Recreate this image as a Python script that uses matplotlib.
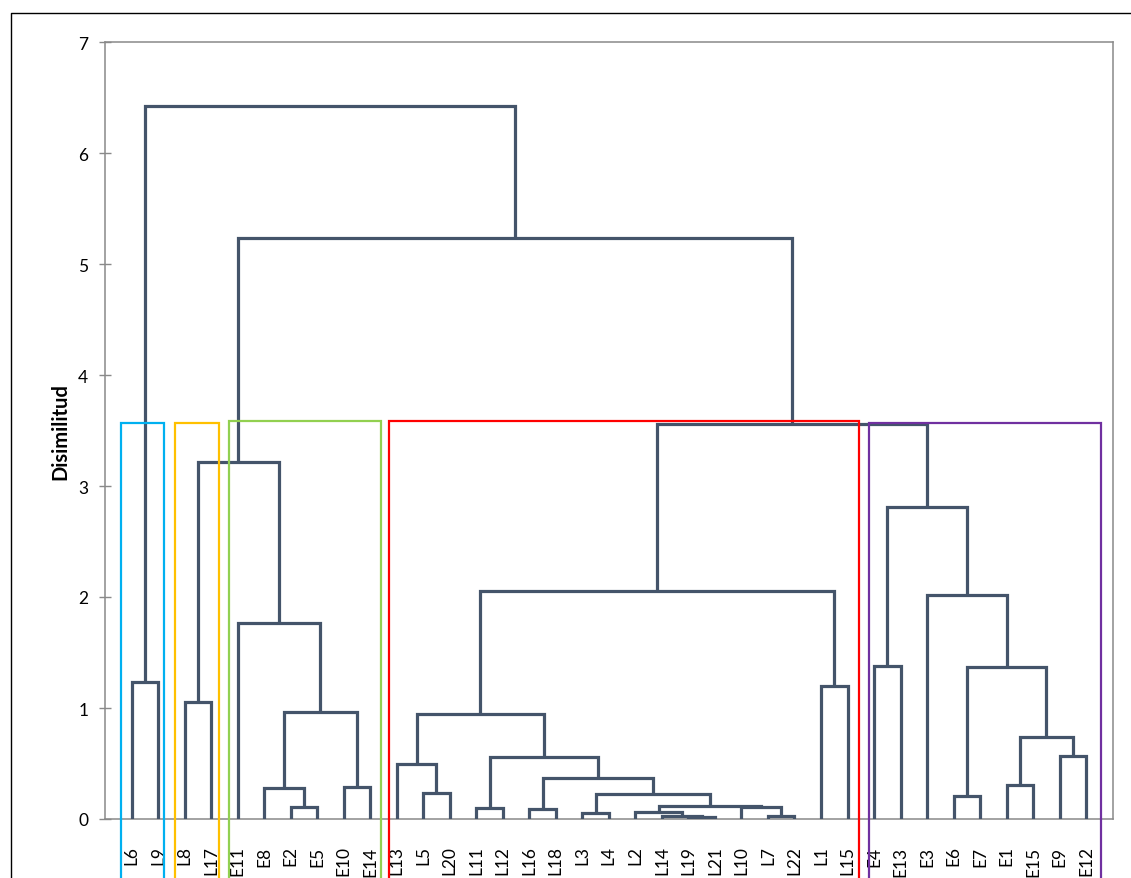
import matplotlib.pyplot as plt
from matplotlib.lines import Line2D

plt.rcParams['font.family'] = ['Lato', 'DejaVu Sans']

# hojas en el orden del dendrograma
hojas = ['L6', 'L9', 'L8', 'L17', 'E11', 'E8', 'E2', 'E5', 'E10', 'E14',
         'L13', 'L5', 'L20', 'L11', 'L12', 'L16', 'L18', 'L3', 'L4', 'L2',
         'L14', 'L19', 'L21', 'L10', 'L7', 'L22', 'L1', 'L15',
         'E4', 'E13', 'E3', 'E6', 'E7', 'E1', 'E15', 'E9', 'E12']

# uniones: (nombre, hijo izquierdo, hijo derecho, disimilitud)
uniones = [
    ('m1', 'L19', 'L21', 0.015),
    ('m2', 'L14', 'm1', 0.025),
    ('m3', 'L2', 'm2', 0.065),
    ('m4', 'L7', 'L22', 0.025),
    ('m5', 'L10', 'm4', 0.105),
    ('m6', 'm3', 'm5', 0.115),
    ('m7', 'L3', 'L4', 0.057),
    ('m8', 'm7', 'm6', 0.225),
    ('m9', 'L16', 'L18', 0.09),
    ('m10', 'm9', 'm8', 0.37),
    ('m11', 'L11', 'L12', 0.10),
    ('m12', 'm11', 'm10', 0.56),
    ('m13', 'L5', 'L20', 0.23),
    ('m14', 'L13', 'm13', 0.50),
    ('m15', 'm14', 'm12', 0.945),
    ('m16', 'L1', 'L15', 1.20),
    ('m17', 'm15', 'm16', 2.05),
    ('m18', 'E2', 'E5', 0.105),
    ('m19', 'E8', 'm18', 0.275),
    ('m20', 'E10', 'E14', 0.29),
    ('m21', 'm19', 'm20', 0.96),
    ('m22', 'E11', 'm21', 1.77),
    ('m23', 'L8', 'L17', 1.05),
    ('m24', 'm23', 'm22', 3.22),
    ('m25', 'L6', 'L9', 1.23),
    ('m26', 'E4', 'E13', 1.38),
    ('m27', 'E6', 'E7', 0.21),
    ('m28', 'E1', 'E15', 0.31),
    ('m29', 'E9', 'E12', 0.565),
    ('m30', 'm28', 'm29', 0.74),
    ('m31', 'm27', 'm30', 1.37),
    ('m32', 'E3', 'm31', 2.02),
    ('m33', 'm26', 'm32', 2.81),
    ('m34', 'm17', 'm33', 3.56),
    ('m35', 'm24', 'm34', 5.23),
    ('m36', 'm25', 'm35', 6.42),
]

# grupos marcados con recuadros: (x izq, x der, altura, color)
grupos = [
    (0.60, 2.24, 3.565, '#00B0F0'),
    (2.64, 4.29, 3.565, '#FFC000'),
    (4.69, 10.42, 3.59, '#92D050'),
    (10.72, 28.43, 3.59, '#FF0000'),
    (28.81, 37.57, 3.565, '#7030A0'),
]

fig = plt.figure(figsize=(11.31, 8.79), dpi=100)
ax = fig.add_axes([105 / 1131, 1 - 820 / 879, (1112.7 - 105) / 1131, (820 - 43) / 879])

# posicion y altura de cada nodo
pos = {h: i + 1 for i, h in enumerate(hojas)}
alt = {h: 0.0 for h in hojas}

color_arbol = '#44546A'
for nombre, a, b, d in uniones:
    xa, xb = pos[a], pos[b]
    ax.plot([xa, xa, xb, xb], [alt[a], d, d, alt[b]], color=color_arbol,
            lw=2.3, solid_joinstyle='miter', solid_capstyle='butt', zorder=3)
    pos[nombre] = (xa + xb) / 2
    alt[nombre] = d

# recuadros de los grupos, bajan hasta el borde inferior
for x0, x1, top, c in grupos:
    ax.plot([x0, x0, x1, x1], [-1, top, top, -1], color=c, lw=1.6,
            solid_joinstyle='miter', clip_on=False, zorder=4)

ax.set_xlim(0, len(hojas) + 1)
ax.set_ylim(0, 7)
ax.set_yticks(range(8))
ax.set_xticks(range(1, len(hojas) + 1), hojas, rotation=90)
ax.tick_params(axis='x', length=0, pad=19, labelsize=12.5)
ax.tick_params(axis='y', direction='inout', length=8, width=1, color='#898989',
               labelsize=12.5, pad=8)
for s in ax.spines.values():
    s.set_color('#898989')
    s.set_linewidth(1.1)
ax.set_ylabel('Disimilitud', fontsize=14.5, fontweight='bold', labelpad=6)

# marco exterior
fig.add_artist(Line2D([11 / 1131, 11 / 1131, 1.0], [0.0, 1 - 14 / 879, 1 - 14 / 879],
                      transform=fig.transFigure, color='black', lw=1))

fig.savefig('out.png', dpi=100)
